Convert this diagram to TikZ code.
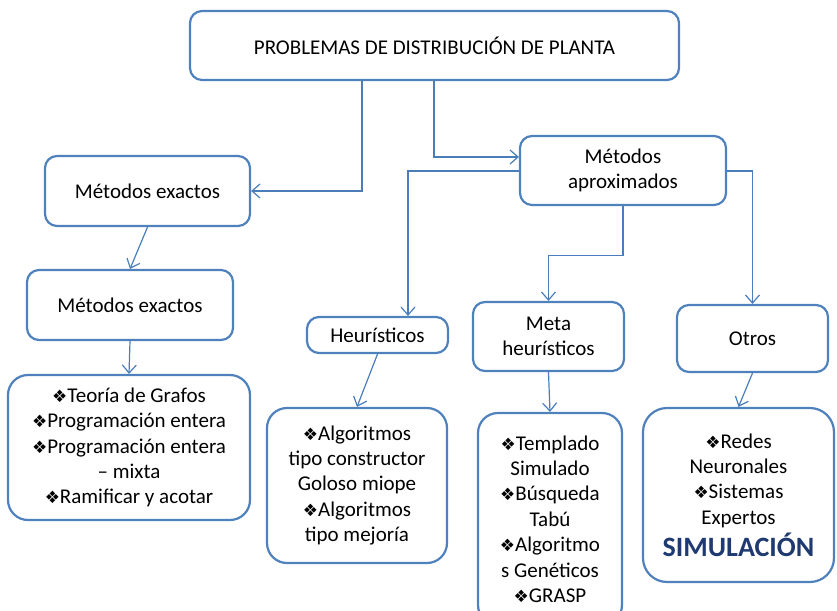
\documentclass[tikz,border=0pt]{standalone}
\usepackage{fontspec}
\setmainfont{Carlito}
\newfontfamily\symfont{DejaVu Sans}
\usetikzlibrary{arrows.meta,calc}
\definecolor{boxblue}{HTML}{4F81BD}
\definecolor{lineblue}{HTML}{4A7EBB}
\definecolor{simblue}{HTML}{1F3A70}
\newcommand{\bul}{{\symfont\fontsize{8.5}{8.5}\selectfont ❖}}
\tikzset{
  box/.style={draw=boxblue, line width=1.1pt, rounded corners=6pt, fill=white,
    align=center, inner sep=0pt, font=\fontsize{10.5}{12.7}\selectfont},
  listbox/.style={box, rounded corners=10pt},
  arr/.style={draw=lineblue, line width=0.6pt, -{Straight Barb[length=4pt,width=7pt]}}
}
\begin{document}
\begin{tikzpicture}[x=0.5pt,y=-0.5pt]
\useasboundingbox (0,0) rectangle (837,611);
\clip (0,0) rectangle (837,611);
\fill[white] (0,0) rectangle (837,611);

\node[box, minimum width=244.5pt, minimum height=34.5pt] (top) at (434.5,45.5) {PROBLEMAS DE DISTRIBUCIÓN DE PLANTA};
\node[box, minimum width=102.5pt, minimum height=35pt] (ex1) at (147.5,191) {Métodos exactos};
\node[box, minimum width=103pt, minimum height=35pt] (ex2) at (130,305) {Métodos exactos};
\node[listbox, minimum width=121pt, minimum height=72.5pt] (list1) at (129,447.5)
  {\bul Teoría de Grafos\\\bul Programación entera\\\bul Programación entera\\– mixta\\\bul Ramificar y acotar};
\node[box, minimum width=103pt, minimum height=34.5pt] (aprox) at (623,170.5) {Métodos\\aproximados};
\node[box, minimum width=70.5pt, minimum height=18pt] (heur) at (377.5,335) {Heurísticos};
\node[box, minimum width=75.5pt, minimum height=34.5pt] (meta) at (548.5,336.5) {Meta\\heurísticos};
\node[box, minimum width=75.5pt, minimum height=33.5pt] (otros) at (752.5,338.5) {Otros};
\node[listbox, minimum width=90pt, minimum height=77.5pt] (hlist) at (357,485.5)
  {\bul Algoritmos\\tipo constructor\\Goloso miope\\\bul Algoritmos\\tipo mejoría};
\node[listbox, minimum width=72pt, minimum height=106pt] (mlist) at (550,519)
  {\bul Templado\\Simulado\\\bul Búsqueda\\Tabú\\\bul Algoritmo\\s Genéticos\\\bul GRASP};
\node[listbox, rounded corners=12pt, minimum width=95.5pt, minimum height=87pt] (olist) at (738.5,495)
  {\bul Redes\\Neuronales\\\bul Sistemas\\Expertos\\[1.5pt]{\bfseries\color{simblue}\fontsize{14}{15}\selectfont SIMULACIÓN}};

\draw[arr] ($(top.south)+(-72.5,0)$) |- (ex1.east);
\draw[arr] ($(top.south)+(-0.5,0)$) |- ($(aprox.west)+(0,-13.5)$);
\draw[arr] (ex1.south) -- (ex2.north);
\draw[arr] (ex2.south) -- (list1.north);
\draw[arr] ($(aprox.west)+(0,0.5)$) -| ($(heur.north)+(30.5,0)$);
\draw[arr] (aprox.south) -- ++(0,49) -| (meta.north);
\draw[arr] ($(aprox.east)+(0,0.5)$) -| (otros.north);
\draw[arr] (heur.south) -- (hlist.north);
\draw[arr] (meta.south) -- (mlist.north);
\draw[arr] (otros.south) -- (olist.north);
\end{tikzpicture}
\end{document}
